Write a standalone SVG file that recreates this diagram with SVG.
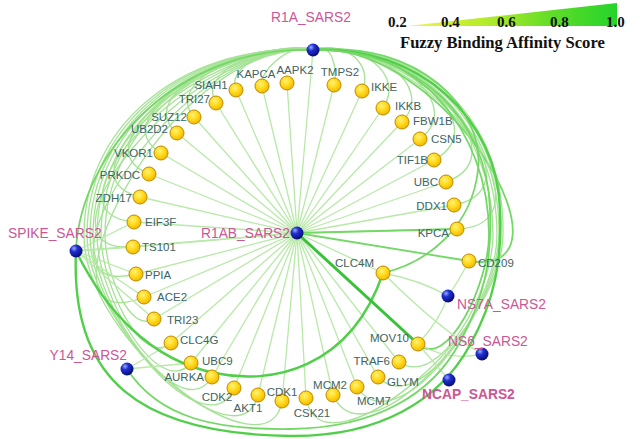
<svg xmlns="http://www.w3.org/2000/svg" width="640" height="439" viewBox="0 0 640 439">
<defs>
<radialGradient id="gy" cx="0.4" cy="0.35" r="0.7"><stop offset="0" stop-color="#fff27a"/><stop offset="0.5" stop-color="#ffd91a"/><stop offset="1" stop-color="#efb400"/></radialGradient>
<radialGradient id="gb" cx="0.35" cy="0.3" r="0.75"><stop offset="0" stop-color="#9aa8ff"/><stop offset="0.35" stop-color="#2030d0"/><stop offset="1" stop-color="#06086e"/></radialGradient>
<linearGradient id="lg" x1="407" y1="0" x2="617" y2="0" gradientUnits="userSpaceOnUse"><stop offset="0" stop-color="#f0f266"/><stop offset="0.2" stop-color="#d6f032"/><stop offset="0.45" stop-color="#a4e82a"/><stop offset="0.7" stop-color="#5edc28"/><stop offset="1" stop-color="#24d42c"/></linearGradient>
<style>
.sp{stroke:#b8e9a8;stroke-width:1.3;fill:none}
.ar{stroke:#a4e294;stroke-width:1.3;fill:none}
.md{stroke:#74d866;stroke-width:1.8;fill:none}
.th{stroke:#52cf4a;stroke-width:2.4;fill:none}
.tk{stroke:#38c238;stroke-width:3;fill:none}
.y{fill:url(#gy);stroke:#c08a00;stroke-width:1}
.b{fill:url(#gb)}
.lb{font-family:"Liberation Sans",Arial,sans-serif;font-size:11.5px;fill:#3e6464}
.pl{font-family:"Liberation Sans",Arial,sans-serif;font-size:13.8px;fill:#cc5696}
.lt{font-family:"Liberation Serif","Times New Roman",serif;font-weight:bold;fill:#111}
</style>
</defs>
<rect width="640" height="439" fill="#fff"/>
<g id="legend">
<polygon points="407,26 617,3 617,26" fill="url(#lg)"/>
<text class="lt" x="388" y="27" font-size="15">0.2</text>
<text class="lt" x="441" y="27" font-size="15">0.4</text>
<text class="lt" x="497" y="27" font-size="15">0.6</text>
<text class="lt" x="550" y="27" font-size="15">0.8</text>
<text class="lt" x="606" y="27" font-size="15">1.0</text>
<text class="lt" x="400" y="48" font-size="16.6">Fuzzy Binding Affinity Score</text>
</g>
<g id="connectors">
<g id="spokes">
<line class="sp" x1="297" y1="233" x2="287" y2="83"/><line class="sp" x1="297" y1="233" x2="262" y2="86"/><line class="sp" x1="297" y1="233" x2="236" y2="90"/><line class="sp" x1="297" y1="233" x2="216" y2="103"/><line class="sp" x1="297" y1="233" x2="194" y2="117"/><line class="sp" x1="297" y1="233" x2="177" y2="133"/><line class="sp" x1="297" y1="233" x2="161" y2="153"/><line class="sp" x1="297" y1="233" x2="149" y2="174"/><line class="sp" x1="297" y1="233" x2="140" y2="197"/><line class="sp" x1="297" y1="233" x2="134" y2="222"/><line class="sp" x1="297" y1="233" x2="133" y2="247"/><line class="sp" x1="297" y1="233" x2="136" y2="274"/><line class="sp" x1="297" y1="233" x2="144" y2="297"/><line class="sp" x1="297" y1="233" x2="154" y2="319"/><line class="sp" x1="297" y1="233" x2="171" y2="343"/><line class="sp" x1="297" y1="233" x2="191" y2="363"/><line class="sp" x1="297" y1="233" x2="212" y2="377"/><line class="sp" x1="297" y1="233" x2="234" y2="388"/><line class="sp" x1="297" y1="233" x2="258" y2="395"/><line class="sp" x1="297" y1="233" x2="282" y2="401"/><line class="sp" x1="297" y1="233" x2="306" y2="398"/><line class="sp" x1="297" y1="233" x2="333" y2="395"/><line class="sp" x1="297" y1="233" x2="357" y2="387"/><line class="sp" x1="297" y1="233" x2="378" y2="377"/><line class="sp" x1="297" y1="233" x2="399" y2="362"/><line class="sp" x1="297" y1="233" x2="334" y2="85"/><line class="sp" x1="297" y1="233" x2="362" y2="91"/><line class="sp" x1="297" y1="233" x2="383" y2="108"/><line class="sp" x1="297" y1="233" x2="402" y2="122"/><line class="sp" x1="297" y1="233" x2="420" y2="139"/><line class="sp" x1="297" y1="233" x2="434" y2="160"/><line class="sp" x1="297" y1="233" x2="446" y2="182"/><line class="sp" x1="297" y1="233" x2="454" y2="205"/><line class="sp" x1="297" y1="233" x2="457" y2="229"/><line class="sp" x1="297" y1="233" x2="383" y2="273"/><line class="sp" x1="297" y1="233" x2="313" y2="50"/><line class="sp" x1="297" y1="233" x2="76" y2="251"/>
</g>
<g id="r1a-arcs">
<path class="ar" d="M313,50 C295,40 258,70 262,86"/>
<path class="ar" d="M313,50 C282,40 225,65 236,90"/>
<path class="ar" d="M313,50 C270,40 196,71 216,103"/>
<path class="ar" d="M313,50 C258,40 162,80 194,117"/>
<path class="ar" d="M313,50 C246,40 131,94 177,133"/>
<path class="ar" d="M313,50 C233,40 100,116 161,153"/>
<path class="ar" d="M313,50 C222,40 74,143 149,174"/>
<path class="ar" d="M313,50 C210,40 51,176 140,197"/>
<path class="ar" d="M313,50 C198,40 32,214 134,222"/>
<path class="ar" d="M313,50 C186,40 20,255 133,247"/>
<path class="ar" d="M313,50 C173,40 16,304 136,274"/>
<path class="ar" d="M313,50 C162,40 19,348 144,297"/>
<path class="ar" d="M313,50 C207,42 105,129 105,235 C105,269 128,334 154,319"/>
<path class="ar" d="M313,50 C205,42 101,127 101,235 C101,282 141,369 171,343"/>
<path class="ar" d="M313,50 C203,42 97,125 97,235 C97,295 159,401 191,363"/>
<path class="ar" d="M313,50 C201,42 93,123 93,235 C93,307 181,429 212,377"/>
<path class="ar" d="M313,50 C199,42 90,121 90,235 C90,319 207,452 234,388"/>
<path class="ar" d="M313,50 C197,42 87,119 87,235 C87,332 240,468 258,395"/>
<path class="ar" d="M313,50 C195,42 84,117 84,235 C84,345 270,480 282,401"/>
<path class="ar" d="M313,50 C332,40 338,69 334,85"/>
<path class="ar" d="M313,50 C346,40 374,65 362,91"/>
<path class="ar" d="M313,50 C359,40 406,74 383,108"/>
<path class="ar" d="M313,50 C371,40 437,85 402,122"/>
<path class="ar" d="M313,50 C383,40 469,101 420,139"/>
<path class="ar" d="M313,50 C396,40 499,124 434,160"/>
<path class="ar" d="M313,50 C408,40 525,153 446,182"/>
<path class="ar" d="M313,50 C420,40 547,187 454,205"/>
<path class="ar" d="M313,50 C432,40 562,225 457,229"/>
<path class="md" d="M313,50 C446,40 586,279 469,261"/>
<path class="md" d="M313,50 C415,42 489,129 489,235 C489,282 448,371 418,344"/>
<path class="ar" d="M313,50 C417,42 493,127 493,235 C493,290 440,390 399,362"/>
<path class="ar" d="M313,50 C419,42 497,125 497,235 C497,300 420,420 378,377"/>
<path class="ar" d="M313,50 C421,42 501,123 499,235 C497,315 395,445 357,387"/>
<path class="ar" d="M313,50 C423,42 503,121 501,235 C499,325 365,465 333,395"/>
<path class="ar" d="M313,50 C425,42 505,118 503,235 C501,340 320,480 306,398"/>
<path class="md" d="M313,50 C420,40 485,110 478,170 C472,225 430,262 383,273"/>
</g>
<g id="other-edges">
<line class="sp" x1="76" y1="251" x2="134" y2="222"/>
<line class="sp" x1="76" y1="251" x2="133" y2="247"/>
<line class="sp" x1="76" y1="251" x2="136" y2="274"/>
<line class="sp" x1="76" y1="251" x2="144" y2="297"/>
<line class="sp" x1="76" y1="251" x2="154" y2="319"/>
<line class="sp" x1="127" y1="369" x2="171" y2="343"/>
<line class="sp" x1="127" y1="369" x2="191" y2="363"/>
<path class="sp" d="M383,273 Q420,280 448,296"/>
<path class="sp" d="M383,273 Q440,330 482,354"/>
<path class="sp" d="M418,344 L449,380"/>
<path class="sp" d="M418,344 Q450,362 482,354"/>
<path class="sp" d="M418,344 Q440,320 448,296"/>
<path class="sp" d="M469,261 Q458,282 448,296"/>
<path class="md" d="M76,251 C80,150 180,45 313,50"/>
<path class="md" d="M297,233 L469,261"/>
<path class="md" d="M297,233 L457,229"/>
<path class="th" d="M76,251 C105,310 150,360 215,373 C270,385 350,370 383,273"/>
<path class="th" d="M76,251 C70,380 140,434 290,436 C380,437 440,400 470,345 C495,300 502,260 500,210 C498,120 420,45 313,50"/>
<path class="md" d="M127,369 C160,420 220,430 290,429 C375,428 432,395 460,342 C485,297 492,258 490,210 C488,120 418,48 313,50"/>
<path class="tk" d="M297,233 L418,344"/>
</g>
</g>
<g id="n-R1A_SARS2"><circle class="b" cx="313" cy="50" r="6.5"/><text class="pl" x="311" y="22" text-anchor="middle">R1A_SARS2</text></g>
<g id="n-R1AB_SARS2"><circle class="b" cx="297" cy="233" r="6.5"/><text class="pl" x="290" y="238" text-anchor="end">R1AB_SARS2</text></g>
<g id="n-SPIKE_SARS2"><circle class="b" cx="76" cy="251" r="6.5"/><text class="pl" x="8" y="238">SPIKE_SARS2</text></g>
<g id="n-Y14_SARS2"><circle class="b" cx="127" cy="369" r="6.5"/><text class="pl" x="127" y="360" text-anchor="end">Y14_SARS2</text></g>
<g id="n-NS7A_SARS2"><circle class="b" cx="448" cy="296" r="6.5"/><text class="pl" x="457" y="309">NS7A_SARS2</text></g>
<g id="n-NS6_SARS2"><circle class="b" cx="482" cy="354" r="6.5"/><text class="pl" x="448" y="346">NS6_SARS2</text></g>
<g id="n-NCAP_SARS2"><circle class="b" cx="449" cy="380" r="6.5"/><text class="pl" x="422" y="399" font-weight="bold" font-size="11.5" fill="#c43c80">NCAP_SARS2</text></g>
<g id="n-AAPK2"><circle class="y" cx="287" cy="83" r="7"/><text class="lb" x="295" y="74" text-anchor="middle">AAPK2</text></g>
<g id="n-KAPCA"><circle class="y" cx="262" cy="86" r="7"/><text class="lb" x="256" y="78" text-anchor="middle">KAPCA</text></g>
<g id="n-SIAH1"><circle class="y" cx="236" cy="90" r="7"/><text class="lb" x="211" y="89" text-anchor="middle">SIAH1</text></g>
<g id="n-TRI27"><circle class="y" cx="216" cy="103" r="7"/><text class="lb" x="210" y="103" text-anchor="end">TRI27</text></g>
<g id="n-SUZ12"><circle class="y" cx="194" cy="117" r="7"/><text class="lb" x="187" y="121" text-anchor="end">SUZ12</text></g>
<g id="n-UB2D2"><circle class="y" cx="177" cy="133" r="7"/><text class="lb" x="168" y="133" text-anchor="end">UB2D2</text></g>
<g id="n-VKOR1"><circle class="y" cx="161" cy="153" r="7"/><text class="lb" x="153" y="157" text-anchor="end">VKOR1</text></g>
<g id="n-PRKDC"><circle class="y" cx="149" cy="174" r="7"/><text class="lb" x="140" y="179" text-anchor="end">PRKDC</text></g>
<g id="n-ZDH17"><circle class="y" cx="140" cy="197" r="7"/><text class="lb" x="132" y="202" text-anchor="end">ZDH17</text></g>
<g id="n-EIF3F"><circle class="y" cx="134" cy="222" r="7"/><text class="lb" x="145" y="226">EIF3F</text></g>
<g id="n-TS101"><circle class="y" cx="133" cy="247" r="7"/><text class="lb" x="142" y="251">TS101</text></g>
<g id="n-PPIA"><circle class="y" cx="136" cy="274" r="7"/><text class="lb" x="145" y="279">PPIA</text></g>
<g id="n-ACE2"><circle class="y" cx="144" cy="297" r="7"/><text class="lb" x="157" y="301">ACE2</text></g>
<g id="n-TRI23"><circle class="y" cx="154" cy="319" r="7"/><text class="lb" x="167" y="324">TRI23</text></g>
<g id="n-CLC4G"><circle class="y" cx="171" cy="343" r="7"/><text class="lb" x="180" y="344">CLC4G</text></g>
<g id="n-UBC9"><circle class="y" cx="191" cy="363" r="7"/><text class="lb" x="202" y="365">UBC9</text></g>
<g id="n-AURKA"><circle class="y" cx="212" cy="377" r="7"/><text class="lb" x="204" y="381" text-anchor="end">AURKA</text></g>
<g id="n-CDK2"><circle class="y" cx="234" cy="388" r="7"/><text class="lb" x="217" y="401" text-anchor="middle">CDK2</text></g>
<g id="n-AKT1"><circle class="y" cx="258" cy="395" r="7"/><text class="lb" x="248" y="412" text-anchor="middle">AKT1</text></g>
<g id="n-CDK1"><circle class="y" cx="282" cy="401" r="7"/><text class="lb" x="282" y="396" text-anchor="middle">CDK1</text></g>
<g id="n-CSK21"><circle class="y" cx="306" cy="398" r="7"/><text class="lb" x="312" y="417" text-anchor="middle">CSK21</text></g>
<g id="n-MCM2"><circle class="y" cx="333" cy="395" r="7"/><text class="lb" x="330" y="389" text-anchor="middle">MCM2</text></g>
<g id="n-MCM7"><circle class="y" cx="357" cy="387" r="7"/><text class="lb" x="357" y="405">MCM7</text></g>
<g id="n-GLYM"><circle class="y" cx="378" cy="377" r="7"/><text class="lb" x="387" y="386">GLYM</text></g>
<g id="n-TRAF6"><circle class="y" cx="399" cy="362" r="7"/><text class="lb" x="390" y="365" text-anchor="end">TRAF6</text></g>
<g id="n-MOV10"><circle class="y" cx="418" cy="344" r="7"/><text class="lb" x="409" y="342" text-anchor="end">MOV10</text></g>
<g id="n-CLC4M"><circle class="y" cx="383" cy="273" r="7"/><text class="lb" x="374" y="267" text-anchor="end">CLC4M</text></g>
<g id="n-CD209"><circle class="y" cx="469" cy="261" r="7"/><text class="lb" x="478" y="267">CD209</text></g>
<g id="n-TMPS2"><circle class="y" cx="334" cy="85" r="7"/><text class="lb" x="340" y="76" text-anchor="middle">TMPS2</text></g>
<g id="n-IKKE"><circle class="y" cx="362" cy="91" r="7"/><text class="lb" x="371" y="91">IKKE</text></g>
<g id="n-IKKB"><circle class="y" cx="383" cy="108" r="7"/><text class="lb" x="395" y="110">IKKB</text></g>
<g id="n-FBW1B"><circle class="y" cx="402" cy="122" r="7"/><text class="lb" x="413" y="125">FBW1B</text></g>
<g id="n-CSN5"><circle class="y" cx="420" cy="139" r="7"/><text class="lb" x="431" y="143">CSN5</text></g>
<g id="n-TIF1B"><circle class="y" cx="434" cy="160" r="7"/><text class="lb" x="428" y="164" text-anchor="end">TIF1B</text></g>
<g id="n-UBC"><circle class="y" cx="446" cy="182" r="7"/><text class="lb" x="438" y="186" text-anchor="end">UBC</text></g>
<g id="n-DDX1"><circle class="y" cx="454" cy="205" r="7"/><text class="lb" x="447" y="210" text-anchor="end">DDX1</text></g>
<g id="n-KPCA"><circle class="y" cx="457" cy="229" r="7"/><text class="lb" x="449" y="237" text-anchor="end">KPCA</text></g>
</svg>
